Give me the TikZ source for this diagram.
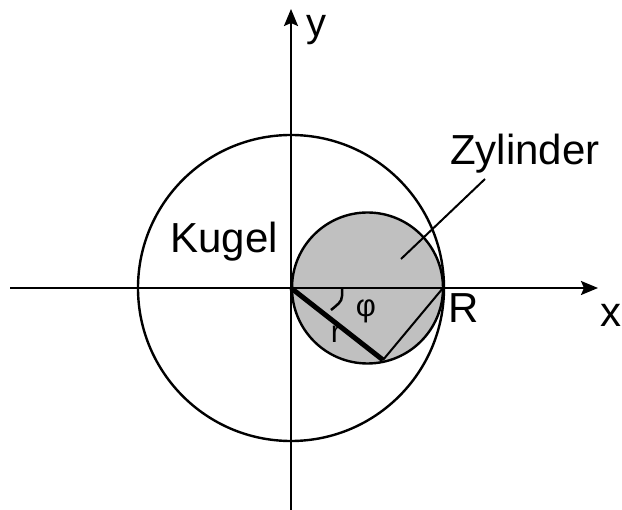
\documentclass[tikz,border=0pt]{standalone}
\usepackage{fontspec}
\setmainfont{Liberation Sans}
\usetikzlibrary{arrows.meta}
\definecolor{cylgray}{RGB}{192,192,192}
\begin{document}
\begin{tikzpicture}[x=1pt,y=-1pt,
  axis/.style={line width=2.2pt,-{Stealth[length=17pt,width=14pt,inset=3pt]}},
  circ/.style={line width=2.4pt},
  big/.style={font=\fontsize{42}{46}\selectfont},
  small/.style={font=\fontsize{31}{34}\selectfont},
  lab/.style={inner sep=0pt,anchor=base}]
\useasboundingbox (0,0) rectangle (622,510);
\coordinate (O) at (291,288);
\coordinate (C) at (367.5,288);
\coordinate (Rp) at (443,288);
\coordinate (P) at (383,360);
\coordinate (xl) at (10,288);
\coordinate (xr) at (598,288);
\coordinate (yb) at (291,510);
\coordinate (yt) at (291,9);
% cylinder
\fill[cylgray] (C) circle[radius=75.5];
\draw[circ] (C) circle[radius=75.5];
% sphere
\draw[circ] (O) circle[radius=153];
% axes
\draw[axis] (xl) -- (xr);
\draw[axis] (yb) -- (yt);
% r and chord
\draw[line width=5pt] (O) -- (P);
\draw[line width=2pt] (P) -- (Rp);
% angle mark
\draw[line width=2.5pt] (342,288) -- (342,296) .. controls (342,302) and (337,305) .. (331,310);
% leader
\coordinate (la) at (485,179);
\coordinate (lb) at (401,259);
\draw[line width=2pt] (la) -- (lb);
% labels
\node[lab,big] (kugel) at (224,253) {Kugel};
\node[lab,big] (zyl) at (525,165) {Zylinder};
\node[lab,big] (xlab) at (611,327) {x};
\node[lab,font=\fontsize{40}{44}\selectfont] (ylab) at (316,37) {y};
\node[lab,big] (Rlab) at (464,323) {R};
\node[lab,small] (rlab) at (336,343) {r};
\node[inner sep=0pt,small] (philab) at (366,311) {φ};
\end{tikzpicture}
\end{document}
